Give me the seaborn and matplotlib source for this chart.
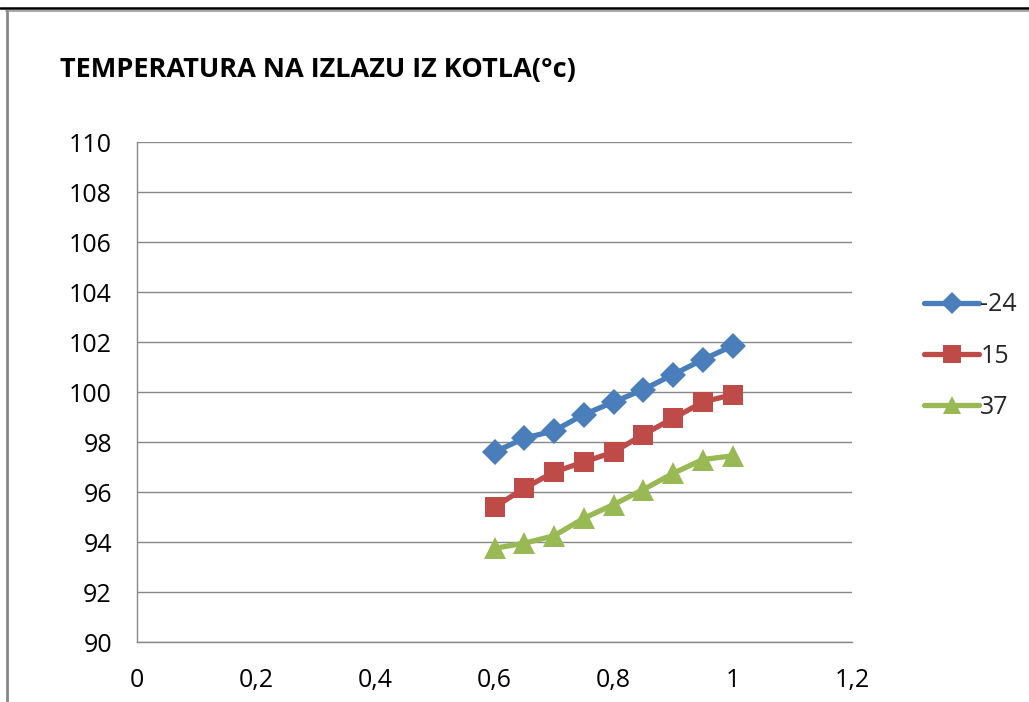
import matplotlib
matplotlib.use("Agg")
import matplotlib.pyplot as plt
import matplotlib.ticker as mticker
from matplotlib.lines import Line2D
import seaborn as sns
import pandas as pd

# Boiler load factor (x) and outlet temperature for three outdoor temperatures
load = [0.6, 0.65, 0.7, 0.75, 0.8, 0.85, 0.9, 0.95, 1.0]
t_minus24 = [97.6, 98.15, 98.45, 99.1, 99.6, 100.1, 100.7, 101.3, 101.85]
t_15 = [95.4, 96.15, 96.8, 97.2, 97.6, 98.3, 98.95, 99.6, 99.9]
t_37 = [93.75, 93.95, 94.25, 94.95, 95.5, 96.1, 96.75, 97.3, 97.45]
series_names = ["-24", "15", "37"]
title = "TEMPERATURA NA IZLAZU IZ KOTLA(°c)"

colors = {"-24": "#4A7EBB", "15": "#BE4B48", "37": "#98B954"}
markers = {"-24": "D", "15": "s", "37": "^"}
msizes = {"-24": 13, "15": 15, "37": 16}

df = pd.concat([
    pd.DataFrame({"x": load, "T": vals, "serija": name})
    for name, vals in zip(series_names, [t_minus24, t_15, t_37])
], ignore_index=True)

sns.set_theme(style="white")
plt.rcParams["font.family"] = ["Open Sans", "DejaVu Sans"]

fig = plt.figure(figsize=(10.29, 7.02), dpi=100)
ax = fig.add_axes([137 / 1029, 1 - 642 / 702, 715 / 1029, 500 / 702])

for name in series_names:
    sub = df[df["serija"] == name]
    sns.lineplot(data=sub, x="x", y="T", ax=ax, color=colors[name],
                 marker=markers[name], markersize=msizes[name],
                 markeredgewidth=0, linewidth=3.8, legend=False, zorder=3)

ax.set_xlim(0, 1.2)
ax.set_ylim(90, 110)
ax.xaxis.set_major_locator(mticker.MultipleLocator(0.2))
ax.yaxis.set_major_locator(mticker.MultipleLocator(2))
fmt = lambda v, p: (f"{v:.1f}".rstrip("0").rstrip(".")).replace(".", ",")
ax.xaxis.set_major_formatter(mticker.FuncFormatter(fmt))
ax.yaxis.set_major_formatter(mticker.FuncFormatter(lambda v, p: f"{v:.0f}"))
ax.set_xlabel("")
ax.set_ylabel("")

ax.grid(axis="y", color="#888888", linewidth=1.0)
ax.set_axisbelow(True)
for s in ["top", "right"]:
    ax.spines[s].set_visible(False)
for s in ["left", "bottom"]:
    ax.spines[s].set_color("#888888")
    ax.spines[s].set_linewidth(1.0)
ax.tick_params(axis="both", direction="out", length=7, width=1.0,
               color="#888888", labelsize=18, labelcolor="#000000")
ax.tick_params(axis="y", pad=11)
ax.tick_params(axis="x", pad=12)

handles = [Line2D([0], [0], color=colors[n], marker=markers[n],
                  markersize=msizes[n] * 0.85, markeredgewidth=0, linewidth=3.8)
           for n in series_names]
fig.legend(handles, series_names, loc="center left",
           bbox_to_anchor=(914 / 1029, 1 - 356 / 702), frameon=False,
           fontsize=18, handlelength=2.2, handletextpad=0.05,
           labelspacing=1.05, borderaxespad=0)

fig.text(60 / 1029, 1 - 70 / 702, title, fontsize=19.5, fontweight="bold",
         va="center", ha="left", color="#000000")

# Page frame lines around the chart
fig.add_artist(Line2D([0, 1], [1 - 8 / 702, 1 - 8 / 702], color="black",
                      linewidth=1.8, transform=fig.transFigure))
fig.add_artist(Line2D([6 / 1029, 1], [1 - 11 / 702, 1 - 11 / 702], color="#999999",
                      linewidth=1.2, transform=fig.transFigure))
fig.add_artist(Line2D([7 / 1029, 7 / 1029], [0, 1 - 11 / 702], color="#888888",
                      linewidth=2.0, transform=fig.transFigure))

fig.savefig("out.png", dpi=100, facecolor="white")
